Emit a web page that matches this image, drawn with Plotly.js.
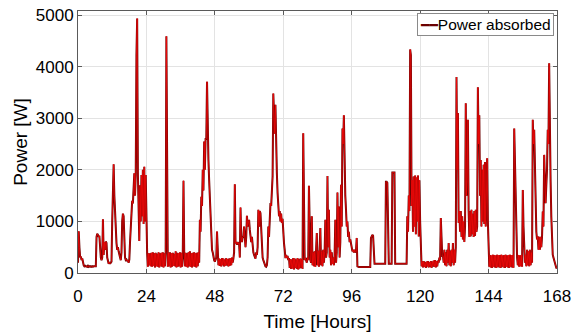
<!DOCTYPE html>
<html>
<head>
<meta charset="utf-8">
<script src="https://cdn.plot.ly/plotly-3.0.1.min.js"></script>
<style>
  html, body { margin: 0; padding: 0; background: #ffffff; }
  #chart { width: 579px; height: 336px; }
</style>
</head>
<body>
<div id="chart"></div>
<script>
// Sampling step of the recorded series (hours between samples)
const sampleStepHours = 0.25;

// Power absorbed [W], one row per hour (4 samples per hour)
const power = [
  200, 810, 500, 300,     // h0
  320, 250, 280, 200,     // h1
  150, 130, 140, 130,     // h2
  130, 120, 140, 120,     // h3
  130, 120, 130, 120,     // h4
  130, 120, 130, 130,     // h5
  140, 130, 700, 760,     // h6
  740, 700, 720, 320,     // h7
  300, 250, 300, 1040,    // h8
  350, 600, 450, 610,     // h9
  580, 300, 200, 180,     // h10
  210, 180, 200, 220,     // h11
  1000, 1480, 2110, 1500, // h12
  1100, 700, 580, 450,    // h13
  500, 420, 380, 300,     // h14
  250, 400, 1000, 1150,   // h15
  1100, 600, 300, 250,    // h16
  260, 230, 250, 200,     // h17
  260, 600, 1000, 1300,   // h18
  1400, 1350, 1800, 1935, // h19
  1500, 1900, 4225, 4935, // h20
  1935, 1500, 620, 1700,  // h21
  1000, 1900, 1100, 2000, // h22
  950, 2060, 1000, 1900,  // h23
  850, 390, 120, 380,     // h24
  150, 380, 130, 390,     // h25
  120, 400, 140, 380,     // h26
  110, 390, 130, 370,     // h27
  120, 400, 110, 380,     // h28
  130, 390, 120, 400,     // h29
  110, 380, 130, 390,     // h30
  4590, 380, 120, 390,    // h31
  130, 400, 110, 380,     // h32
  120, 390, 140, 370,     // h33
  130, 420, 110, 390,     // h34
  120, 380, 130, 400,     // h35
  110, 390, 120, 380,     // h36
  1790, 400, 130, 390,    // h37
  120, 380, 110, 400,     // h38
  130, 420, 120, 380,     // h39
  110, 390, 130, 400,     // h40
  120, 380, 110, 390,     // h41
  130, 400, 200, 1030,    // h42
  800, 1480, 1300, 2000,  // h43
  1600, 2550, 2000, 2600, // h44
  2600, 3710, 2300, 2190, // h45
  1800, 1500, 970, 700,   // h46
  450, 400, 300, 250,     // h47
  220, 250, 300, 806,     // h48
  300, 150, 280, 140,     // h49
  270, 130, 290, 150,     // h50
  280, 130, 260, 140,     // h51
  290, 150, 270, 130,     // h52
  280, 140, 290, 150,     // h53
  300, 200, 280, 400,     // h54
  1720, 580, 600, 550,    // h55
  600, 560, 580, 300,     // h56
  1270, 700, 600, 700,    // h57
  700, 900, 600, 500,     // h58
  700, 1110, 900, 1030,   // h59
  1030, 840, 700, 600,    // h60
  700, 450, 400, 350,     // h61
  300, 280, 400, 350,     // h62
  500, 1225, 900, 1200,   // h63
  1160, 800, 450, 300,    // h64
  250, 200, 150, 130,     // h65
  120, 150, 300, 900,     // h66
  700, 1100, 1355, 1300,  // h67
  1500, 1870, 3480, 2900, // h68
  2700, 3260, 2225, 1935, // h69
  1550, 1225, 1100, 1200, // h70
  1000, 1150, 970, 1050,  // h71
  700, 580, 450, 290,     // h72
  350, 290, 330, 250,     // h73
  290, 100, 270, 80,      // h74
  260, 90, 290, 70,       // h75
  280, 100, 260, 80,      // h76
  290, 70, 270, 90,       // h77
  280, 100, 270, 80,      // h78
  2710, 300, 250, 290,    // h79
  260, 200, 300, 250,     // h80
  1690, 300, 250, 200,    // h81
  1100, 150, 400, 130,    // h82
  420, 120, 400, 775,     // h83
  150, 430, 120, 400,     // h84
  870, 150, 420, 130,     // h85
  450, 200, 420, 1030,    // h86
  300, 400, 1880, 500,    // h87
  1225, 300, 450, 150,    // h88
  400, 180, 300, 150,     // h89
  350, 1030, 200, 400,    // h90
  1560, 500, 1290, 300,   // h91
  600, 1710, 900, 2800,   // h92
  2500, 3060, 1935, 1500, // h93
  1225, 900, 1000, 700,   // h94
  800, 600, 650, 580,     // h95
  450, 420, 450, 400,     // h96
  450, 400, 420, 680,     // h97
  130, 115, 115, 115,     // h98
  115, 115, 115, 115,     // h99
  115, 115, 115, 115,     // h100
  115, 115, 115, 115,     // h101
  115, 115, 115, 680,     // h102
  700, 740, 720, 180,     // h103
  180, 180, 180, 180,     // h104
  180, 180, 180, 180,     // h105
  180, 180, 180, 180,     // h106
  180, 180, 180, 180,     // h107
  1770, 1770, 1750, 180,  // h108
  180, 180, 180, 180,     // h109
  180, 1950, 1950, 1950,  // h110
  1950, 180, 180, 180,    // h111
  180, 180, 180, 180,     // h112
  180, 180, 180, 180,     // h113
  180, 180, 180, 180,     // h114
  180, 180, 1100, 800,    // h115
  1500, 1200, 4335, 4225, // h116
  1300, 1800, 800, 1870,  // h117
  900, 1890, 750, 1850,   // h118
  1000, 1890, 710, 1800,  // h119
  1000, 200, 130, 220,    // h120
  110, 230, 120, 210,     // h121
  100, 220, 130, 230,     // h122
  110, 210, 120, 230,     // h123
  100, 220, 130, 240,     // h124
  120, 250, 110, 230,     // h125
  130, 240, 200, 300,     // h126
  250, 1065, 500, 330,    // h127
  330, 200, 450, 150,     // h128
  400, 130, 450, 200,     // h129
  580, 150, 430, 130,     // h130
  450, 200, 580, 150,     // h131
  450, 200, 500, 3800,    // h132
  2000, 3100, 970, 1200,  // h133
  800, 1200, 700, 1100,   // h134
  650, 1000, 600, 900,    // h135
  3290, 1500, 1800, 2970, // h136
  1200, 700, 1200, 710,   // h137
  1225, 750, 1150, 700,   // h138
  1200, 720, 1225, 800,   // h139
  900, 3600, 2500, 3060,  // h140
  1500, 2190, 900, 2000,  // h141
  1000, 2100, 950, 2150,  // h142
  900, 2000, 2225, 1000,  // h143
  355, 120, 350, 110,     // h144
  340, 100, 355, 120,     // h145
  350, 110, 340, 100,     // h146
  355, 120, 345, 110,     // h147
  350, 100, 355, 120,     // h148
  340, 110, 350, 100,     // h149
  355, 120, 340, 110,     // h150
  350, 100, 355, 120,     // h151
  345, 110, 350, 100,     // h152
  2800, 2000, 1550, 850,  // h153
  300, 150, 350, 120,     // h154
  340, 130, 350, 120,     // h155
  1610, 900, 580, 200,    // h156
  350, 130, 450, 150,     // h157
  420, 130, 450, 150,     // h158
  400, 200, 2970, 2500,   // h159
  2775, 1870, 1200, 800,  // h160
  650, 710, 450, 700,     // h161
  450, 700, 500, 700,     // h162
  1190, 900, 2290, 1500,  // h163
  1355, 1700, 2000, 2775, // h164
  2500, 4065, 2390, 1800, // h165
  1100, 600, 355, 300,    // h166
  250, 190, 150, 100,     // h167
  100                     // h168
];

const hours = power.map((_, i) => i * sampleStepHours);

const xTickValues = [0, 24, 48, 72, 96, 120, 144, 168];
const yTickValues = [0, 1000, 2000, 3000, 4000, 5000];
const seriesName = 'Power absorbed';
const darkRed = '#6a0000';

const traces = [
  { // dark outline
    x: hours, y: power, type: 'scatter', mode: 'lines',
    name: seriesName, showlegend: false,
    line: { color: darkRed, width: 2 },
    hoverinfo: 'skip'
  },
  { // bright core
    x: hours, y: power, type: 'scatter', mode: 'lines',
    name: seriesName, showlegend: false,
    line: { color: '#ff0a0a', width: 0.7 },
    hoverinfo: 'skip'
  }
];

const layout = {
  width: 579, height: 336,
  margin: { l: 78, r: 22, t: 11, b: 63, pad: 0 },
  paper_bgcolor: '#ffffff', plot_bgcolor: '#ffffff',
  font: { family: 'Liberation Sans, Arial, sans-serif', color: '#000000', size: 17 },
  showlegend: false,
  annotations: [{
    xref: 'paper', yref: 'paper', x: 1, y: 1,
    xanchor: 'right', yanchor: 'top', xshift: -3, yshift: -2,
    showarrow: false, align: 'left',
    text: '<span style="color:' + darkRed + ';font-size:14px;font-family:DejaVu Sans">━━</span>' + seriesName,
    font: { size: 15.5, color: '#000000' },
    bgcolor: '#ffffff', bordercolor: '#8a8a8a', borderwidth: 1, borderpad: 2
  }],
  xaxis: {
    range: [0, 168], tickmode: 'array', tickvals: xTickValues,
    ticktext: xTickValues.map(String),
    showgrid: true, gridcolor: '#e3e3e3', gridwidth: 1,
    zeroline: false, showline: true, linecolor: '#5a5a5a', linewidth: 1, mirror: 'ticks',
    ticks: 'inside', ticklen: 4, tickcolor: '#5a5a5a',
    tickfont: { size: 17 }, ticklabelstandoff: 8,
    title: { text: 'Time [Hours]', font: { size: 19 }, standoff: 9 }
  },
  yaxis: {
    range: [0, 5080], tickmode: 'array', tickvals: yTickValues,
    ticktext: yTickValues.map(String),
    showgrid: true, gridcolor: '#e3e3e3', gridwidth: 1,
    zeroline: false, showline: true, linecolor: '#5a5a5a', linewidth: 1, mirror: 'ticks',
    ticks: 'inside', ticklen: 4, tickcolor: '#5a5a5a',
    tickfont: { size: 17 },
    title: { text: 'Power [W]', font: { size: 19 }, standoff: 3 }
  }
};

Plotly.newPlot('chart', traces, layout, { displayModeBar: false, staticPlot: true });
</script>
</body>
</html>
